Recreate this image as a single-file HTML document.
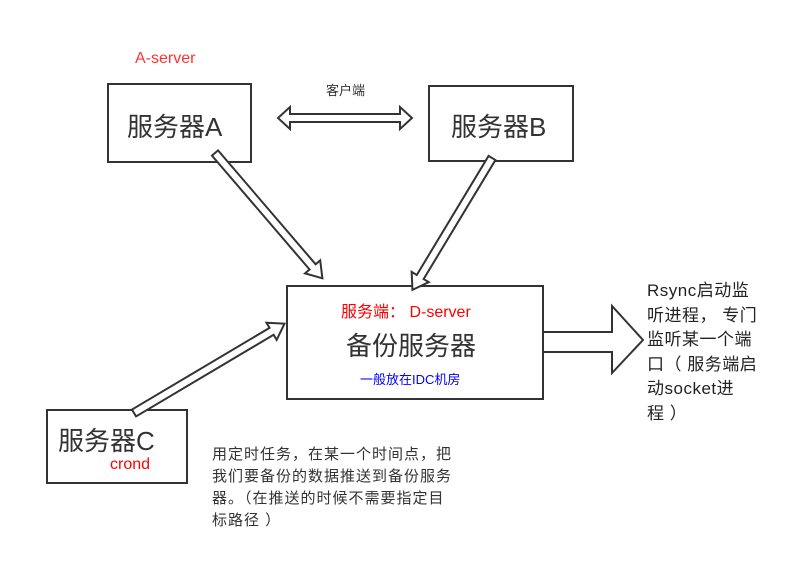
<!DOCTYPE html>
<html><head><meta charset="utf-8"><style>
body{margin:0;background:#fff;width:798px;height:575px;position:relative;overflow:hidden;font-family:"Liberation Sans","Noto Sans CJK SC",sans-serif;color:#333}
.t{position:absolute;white-space:nowrap}
</style></head><body>
<svg width="798" height="575" style="position:absolute;left:0;top:0">
<g fill="#fff" stroke="#333" stroke-width="2">
<rect x="108" y="84" width="143" height="78"/>
<rect x="429" y="86" width="144" height="75"/>
<rect x="287" y="286" width="256" height="113"/>
<rect x="47" y="410" width="140" height="73"/>
<polygon points="543,332 612,332 612,306 643,340 612,373 612,352 543,352"/>
<polygon points="278,118 290,107 290,114 400,114 400,107 412,118 400,129 400,122 290,122 290,129"/>
<g transform="translate(215,153) rotate(49.4)"><polygon points="0,-4 150,-4 150,-10 165,0 150,10 150,4 0,4"/></g>
<g transform="translate(492,158) rotate(121.1)"><polygon points="0,-4 139,-4 139,-10 154,0 139,10 139,4 0,4"/></g>
<g transform="translate(134,413) rotate(-30.7)"><polygon points="0,-4 160,-4 160,-10 175,0 160,10 160,4 0,4"/></g>
</g>
</svg>
<div class="t" style="left:135px;top:50px;font-size:16px;color:#f33">A-server</div>
<div class="t" style="left:326px;top:80px;font-size:13px">客户端</div>
<div class="t" style="left:127px;top:107px;font-size:26px">服务器A</div>
<div class="t" style="left:451px;top:107px;font-size:26px">服务器B</div>
<div class="t" style="left:341px;top:298px;font-size:16px;color:#f00">服务端：&nbsp;D-server</div>
<div class="t" style="left:346px;top:326px;font-size:26px">备份服务器</div>
<div class="t" style="left:360px;top:369px;font-size:13px;color:#00f">一般放在IDC机房</div>
<div class="t" style="left:58px;top:421px;font-size:26px">服务器C</div>
<div class="t" style="left:110px;top:456px;font-size:16px;color:#f00">crond</div>
<div class="t" style="left:647px;top:279px;font-size:17px;line-height:24.6px;color:#222;letter-spacing:0.5px">Rsync启动监<br>听进程，&nbsp;专门<br>监听某一个端<br>口（&nbsp;服务端启<br>动socket进<br>程&nbsp;）</div>
<div class="t" style="left:212px;top:444px;font-size:15px;line-height:22px;color:#333;letter-spacing:1px">用定时任务，在某一个时间点，把<br>我们要备份的数据推送到备份服务<br>器。（在推送的时候不需要指定目<br>标路径&nbsp;）</div>
</body></html>
